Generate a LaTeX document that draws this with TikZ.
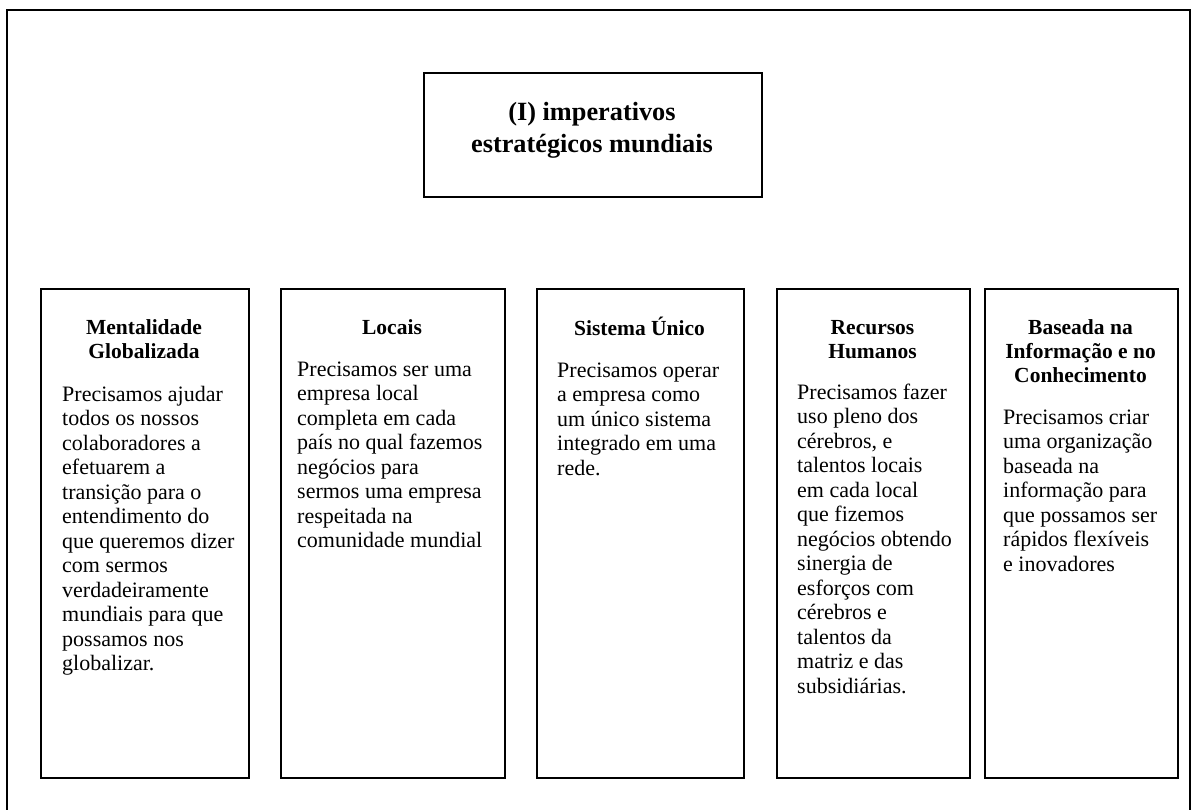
\documentclass[tikz,border=0pt]{standalone}
\usepackage{fontspec}
\setmainfont{Liberation Serif}
\newcommand{\bodyfnt}{\fontsize{22}{24.5}\selectfont}
\newcommand{\ttlfnt}{\fontsize{21.5}{24}\selectfont\bfseries}
\newcommand{\mainfnt}{\fontsize{26.3}{32}\selectfont\bfseries}
\begin{document}
\begin{tikzpicture}[x=1pt,y=-1pt,
  frameline/.style={draw, line width=2pt},
  colbox/.style={draw, line width=2pt, inner sep=0pt, anchor=north west, minimum height=489pt},
  bodytxt/.style={anchor=north west, inner sep=0pt, align=left, font=\bodyfnt},
  ttltxt/.style={anchor=north, inner sep=0pt, align=center, font=\ttlfnt},
  maintxt/.style={anchor=north, inner sep=0pt, align=center, font=\mainfnt}]
\useasboundingbox (0,0) rectangle (1193,810);
\fill[white] (0,0) rectangle (1193,810);
% outer frame
\coordinate (fbl) at (7,810);
\coordinate (ftl) at (7,10);
\coordinate (ftr) at (1190,10);
\coordinate (fbr) at (1190,810);
\draw[frameline] (fbl) -- (ftl) -- (ftr) -- (fbr);
% main title box
\node[draw, line width=2pt, inner sep=0pt, anchor=north west, minimum width=338pt, minimum height=124pt] (top) at (423,72) {};
\node[maintxt] (toptxt) at (592,97.6) {\strut(I) imperativos\\estratégicos mundiais};
% column boxes
\node[colbox, minimum width=208pt] (b1) at (40,288) {};
\node[colbox, minimum width=224pt] (b2) at (280,288) {};
\node[colbox, minimum width=207pt] (b3) at (536,288) {};
\node[colbox, minimum width=193pt] (b4) at (776,288) {};
\node[colbox, minimum width=193pt] (b5) at (984,288) {};
% titles
\node[ttltxt] (h1) at (144,317.2) {\strut Mentalidade\\Globalizada};
\node[ttltxt] (h2) at (392,317.2) {\strut Locais};
\node[ttltxt] (h3) at (639.5,317.2) {\strut Sistema Único};
\node[ttltxt] (h4) at (872.5,317.2) {\strut Recursos\\Humanos};
\node[ttltxt] (h5) at (1080.5,317.2) {\strut Baseada na\\Informação e no\\Conhecimento};
% bodies
\node[bodytxt] (t1) at (62,383.85) {\strut Precisamos ajudar\\todos os nossos\\colaboradores a\\efetuarem a\\transição para o\\entendimento do\\que queremos dizer\\com sermos\\verdadeiramente\\mundiais para que\\possamos nos\\globalizar.};
\node[bodytxt] (t2) at (297,359) {\strut Precisamos ser uma\\empresa local\\completa em cada\\país no qual fazemos\\negócios para\\sermos uma empresa\\respeitada na\\comunidade mundial};
\node[bodytxt] (t3) at (557,360) {\strut Precisamos operar\\a empresa como\\um único sistema\\integrado em uma\\rede.};
\node[bodytxt] (t4) at (797,381.85) {\strut Precisamos fazer\\uso pleno dos\\cérebros, e\\talentos locais\\em cada local\\que fizemos\\negócios obtendo\\sinergia de\\esforços com\\cérebros e\\talentos da\\matriz e das\\subsidiárias.};
\node[bodytxt] (t5) at (1003,406.85) {\strut Precisamos criar\\uma organização\\baseada na\\informação para\\que possamos ser\\rápidos flexíveis\\e inovadores};
\end{tikzpicture}
\end{document}
